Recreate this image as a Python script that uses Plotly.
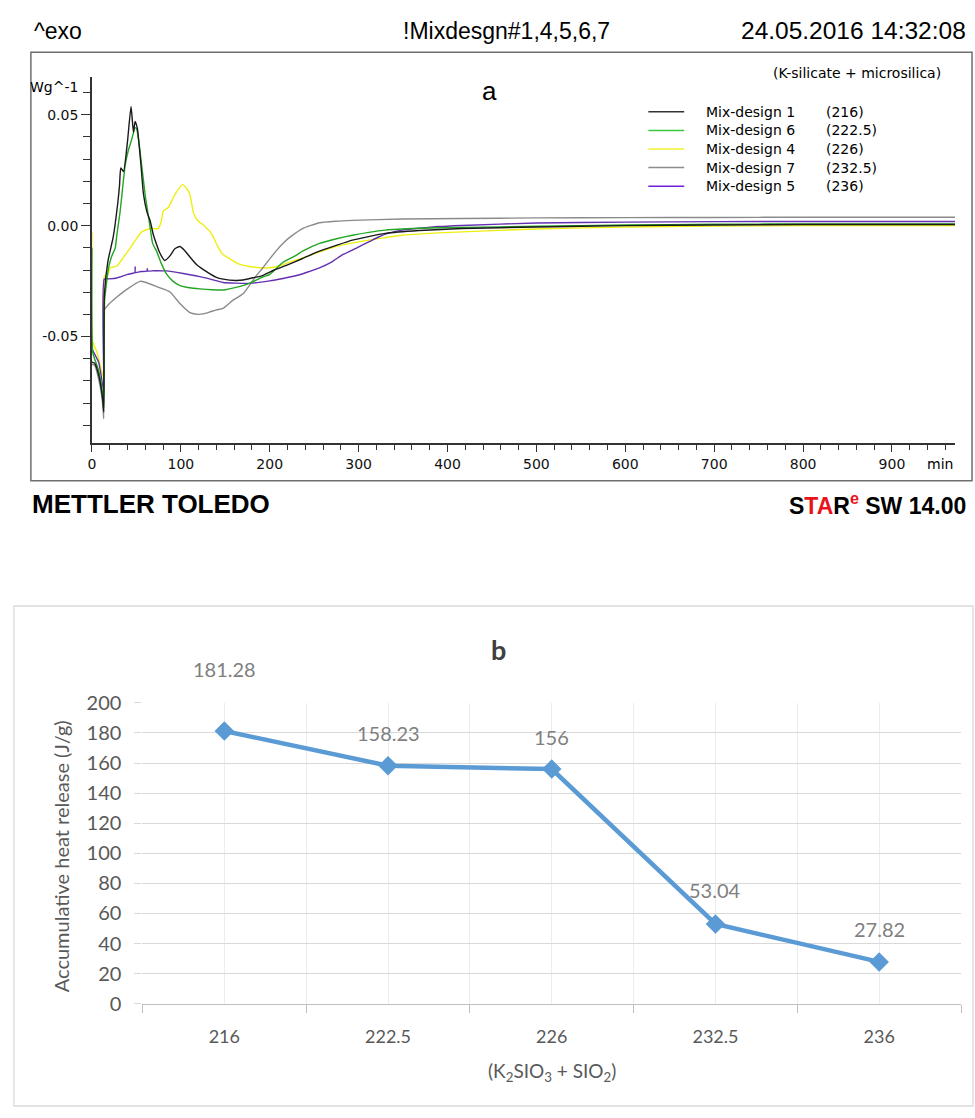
import plotly.graph_objects as go

# ---------------- data: panel a (DSC heat flow, W/g vs time, min) ----------------
t_mix1 = [0, 3, 8, 12, 13.3, 14, 18, 24, 29, 31, 32.5, 35.5, 40, 44, 46.7, 48.5, 49.3, 51.2, 55, 58,
          62, 65.4, 69, 71, 76, 82, 88, 93, 99, 105, 110, 117.6, 125, 140, 147.5, 162, 170, 181, 192, 205,
          218, 237, 256, 274, 293, 330, 368, 416, 500, 600, 700, 800, 900, 971]
v_mix1 = [-0.0615, -0.062, -0.068, -0.078, -0.084, -0.031, -0.016, -0.005, 0.010, 0.018, 0.026, 0.0244, 0.038, 0.0537, 0.042, 0.047, 0.0464, 0.0436, 0.028, 0.0141,
          0.006, 0.0023, -0.004, -0.0065, -0.012, -0.0157, -0.0135, -0.0105, -0.0094, -0.0115, -0.014, -0.0175, -0.0197, -0.0233, -0.0241, -0.0247, -0.0245, -0.0235, -0.0225, -0.020,
          -0.018, -0.0148, -0.0115, -0.009, -0.0065, -0.0035, -0.0022, -0.0013, -0.0006, 0.0, 0.0003, 0.0005, 0.0005, 0.0005]

t_mix6 = [0, 0.8, 3, 8, 12, 13.3, 14.2, 15, 18.7, 22, 26.2, 28, 31.8, 37.4, 41, 44.8, 48.6, 50.4, 54.2, 59.8,
          65.4, 68.3, 72.8, 78, 84, 91, 99, 110, 121.4, 135, 147.5, 162, 177, 190, 200, 215, 229, 237, 256, 274,
          293, 330, 368, 416, 500, 600, 700, 800, 900, 971]
v_mix6 = [-0.010, -0.057, -0.060, -0.066, -0.076, -0.082, -0.034, -0.0307, -0.019, -0.014, -0.0101, -0.0043, 0.0067, 0.0273, 0.034, 0.039, 0.0442, 0.0435, 0.0332, 0.0141,
          -0.0006, -0.008, -0.0116, -0.017, -0.0219, -0.025, -0.027, -0.028, -0.0285, -0.0289, -0.029, -0.0278, -0.026, -0.0235, -0.022, -0.0165, -0.0135, -0.0115, -0.008, -0.006,
          -0.0043, -0.002, -0.0012, -0.0008, -0.0003, 0.0003, 0.0006, 0.0008, 0.0008, 0.0008]

t_mix4 = [0, 0.6, 5.6, 11.2, 13.1, 13.9, 16.8, 20.6, 28, 36, 43, 50, 56, 65.4, 74.7, 78, 80.3, 85.9, 93.4, 101.9,
          106, 110.2, 114, 117.6, 121, 125, 129, 133, 137, 141, 147, 155, 165, 177, 190, 200, 210, 237, 274, 312,
          349, 416, 500, 600, 700, 800, 900, 971]
v_mix4 = [-0.003, -0.052, -0.057, -0.066, -0.0687, -0.0226, -0.0233, -0.019, -0.0182, -0.014, -0.0101, -0.006, -0.0028, -0.0013, -0.0013, 0.002, 0.0067, 0.0082, 0.0141, 0.0185,
          0.017, 0.0141, 0.0060, 0.0030, 0.0015, 0.0005, -0.0012, -0.0028, -0.0055, -0.0090, -0.0128, -0.015, -0.0172, -0.0184, -0.019, -0.019, -0.0182, -0.0145, -0.0094, -0.0065,
          -0.0043, -0.0028, -0.0015, -0.0006, -0.0002, 0.0, 0.0, 0.0]

t_mix7 = [0, 3, 8, 12, 13.3, 14, 15, 20, 28, 40, 54.2, 60, 65.4, 75, 87.8, 99, 110.2, 119.5, 125, 132,
          140, 147.5, 158.7, 170, 177.4, 185, 192.3, 200, 207, 214.7, 225, 237, 256, 274, 293, 349, 416, 500, 600, 700,
          800, 900, 971]
v_mix7 = [-0.0625, -0.063, -0.070, -0.080, -0.087, -0.038, -0.0373, -0.035, -0.0322, -0.0285, -0.0251, -0.0255, -0.0263, -0.0278, -0.0299, -0.0351, -0.0392, -0.0400, -0.0398, -0.039,
          -0.038, -0.0373, -0.0336, -0.0307, -0.0268, -0.0225, -0.019, -0.015, -0.0115, -0.008, -0.0045, -0.0013, 0.0013, 0.0020, 0.0024, 0.003, 0.0032, 0.0035, 0.0036, 0.0037,
          0.0038, 0.0038, 0.0038]

t_mix5 = [0, 1.1, 7.5, 12.3, 13.5, 13.9, 20, 28, 40, 48.3, 48.6, 48.9, 55, 62, 62.3, 62.6, 70, 84, 102.7, 121.4,
          135, 147.5, 162, 177.4, 199.8, 215, 229, 242, 256, 270, 282, 297, 312, 323, 334, 349, 368, 390, 416, 500,
          600, 700, 800, 900, 971]
v_mix5 = [-0.055, -0.0564, -0.0615, -0.0725, -0.075, -0.0241, -0.024, -0.0236, -0.022, -0.0211, -0.0186, -0.0211, -0.0207, -0.0204, -0.0194, -0.0204, -0.0203, -0.0204, -0.0216, -0.023,
          -0.0243, -0.0256, -0.0259, -0.026, -0.0249, -0.0238, -0.0226, -0.021, -0.019, -0.0163, -0.0131, -0.0102, -0.0072, -0.005, -0.0034, -0.002, -0.0012, -0.0004, 0.0001, 0.0012,
          0.0016, 0.0018, 0.0019, 0.0019, 0.0019]

series_names = ["Mix-design 1", "Mix-design 6", "Mix-design 4", "Mix-design 7", "Mix-design 5"]
series_dosage = ["(216)", "(222.5)", "(226)", "(232.5)", "(236)"]

# ---------------- data: panel b ----------------
categories = ["216", "222.5", "226", "232.5", "236"]
heat_release = [181.28, 158.23, 156, 53.04, 27.82]

# ---------------- styling ----------------
W, H = 975, 1118
def fx(x):
    return x / W
def fy(y):
    return 1 - y / H

series_t = [t_mix1, t_mix6, t_mix4, t_mix7, t_mix5]
series_v = [v_mix1, v_mix6, v_mix4, v_mix7, v_mix5]
line_colors = ["#1a1a1a", "#22a622", "#eeee10", "#8a8a8a", "#6330b0"]
legend_colors = ["#333333", "#3cc83c", "#f2f230", "#8c8c8c", "#7020d8"]
draw_order = [2, 3, 4, 1, 0]

fig = go.Figure()
for i in draw_order:
    fig.add_trace(go.Scatter(
        x=series_t[i], y=series_v[i], mode="lines", name=series_names[i],
        line=dict(color=line_colors[i], width=1.4, shape="spline", smoothing=0.5),
        xaxis="x", yaxis="y", showlegend=False, hoverinfo="skip"))

idx = list(range(len(categories)))
fig.add_trace(go.Scatter(
    x=idx, y=heat_release, mode="lines+markers",
    line=dict(color="#5b9bd5", width=4.5),
    marker=dict(symbol="diamond", size=15, color="#5b9bd5"),
    xaxis="x2", yaxis="y2", showlegend=False))

mono = "DejaVu Sans"
head = "Liberation Sans, Arial"
office = "Lato, Open Sans"

xa_major = list(range(0, 901, 100))
xa_minor = [v for v in range(20, 971, 20) if v % 100 != 0]
ya_major = [-0.05, 0.0, 0.05]
ya_minor = [round(k * 0.01, 2) for k in range(-9, 7) if k % 5 != 0]
bounds = [i - 0.5 for i in range(len(categories) + 1)]

annotations = []
def ann(text, x, y, size, family, color="#000", xanchor="center", **kw):
    annotations.append(dict(text=text, x=fx(x), y=fy(y), xref="paper", yref="paper",
                            showarrow=False, xanchor=xanchor, yanchor="middle",
                            font=dict(size=size, family=family, color=color), **kw))

# header / footer of panel a
ann("^exo", 28, 18, 23, head, xanchor="left")
ann("!Mixdesgn#1,4,5,6,7", 505, 18, 23, head)
ann("24.05.2016 14:32:08", 968, 18, 24.5, head, xanchor="right")
ann("<b>METTLER TOLEDO</b>", 26, 502, 26, head, xanchor="left")
ann('<b>S<span style="color:#e8141c">TA</span>R<sup><span style="color:#e8141c">e</span></sup> SW 14.00</b>',
    968, 502, 23, head, xanchor="right")
ann("a", 487, 80, 26, head)
ann("(K-silicate + microsilica)", 943, 61, 14, mono, xanchor="right")
ann("Wg^-1", 50, 76, 14, mono)
ann("min", 940, 461, 14, mono)

shapes = []
# panel a frame
shapes.append(dict(type="rect", xref="paper", yref="paper", x0=fx(27), x1=fx(972), y0=fy(478), y1=fy(40),
                   line=dict(color="#6e6e6e", width=1.5)))
# manual legend of panel a
for i in range(len(series_names)):
    yy = 101 + 19 * i
    shapes.append(dict(type="line", xref="paper", yref="paper", x0=fx(647), x1=fx(683), y0=fy(yy), y1=fy(yy),
                       line=dict(color=legend_colors[i], width=1.5)))
    ann(series_names[i], 703, yy, 14, mono, xanchor="left")
    ann(series_dosage[i], 823, yy, 14, mono, xanchor="left")

# panel b frame
shapes.append(dict(type="rect", xref="paper", yref="paper", x0=fx(10), x1=fx(973), y0=fy(1117), y1=fy(606),
                   line=dict(color="#d9d9d9", width=1.3)))
ann("<b>b</b>", 497, 650, 27, office, color="#404040")
ann("Accumulative heat release (J/g)", 58, 862, 20, office, color="#595959", textangle=-90)
ann("(K<sub>2</sub>SIO<sub>3</sub> + SIO<sub>2</sub>)", 550, 1082, 19, office, color="#595959")

label_shift = [62, 33, 32, 34, 33]
for i, v in enumerate(heat_release):
    annotations.append(dict(text=str(v), x=idx[i], y=v, xref="x2", yref="y2", showarrow=False,
                            yshift=label_shift[i], xanchor="center", yanchor="middle",
                            font=dict(size=20, family=office, color="#808080")))

fig.update_layout(
    width=W, height=H, margin=dict(l=0, r=0, t=0, b=0),
    paper_bgcolor="white", plot_bgcolor="white", showlegend=False,
    xaxis=dict(domain=[fx(88.3), fx(955)], range=[0, 971], anchor="y",
               tickmode="array", tickvals=xa_major, ticktext=[str(v) for v in xa_major],
               ticks="outside", ticklen=8, tickwidth=1.3, tickcolor="#333",
               showline=True, linecolor="#333", linewidth=1.5, showgrid=False, zeroline=False,
               tickfont=dict(family=mono, size=14, color="#111"),
               minor=dict(tickmode="array", tickvals=xa_minor, ticks="outside", ticklen=6,
                          tickwidth=1.3, tickcolor="#333", showgrid=False)),
    yaxis=dict(domain=[fy(439), fy(65)], range=[-0.0978, 0.0672], anchor="x",
               tickmode="array", tickvals=ya_major, ticktext=["-0.05", "0.00", "0.05"],
               ticks="outside", ticklen=9, tickwidth=1.3, tickcolor="#333",
               showline=True, linecolor="#333", linewidth=1.5, showgrid=False, zeroline=False,
               tickfont=dict(family=mono, size=14, color="#111"),
               minor=dict(tickmode="array", tickvals=ya_minor, ticks="outside", ticklen=7,
                          tickwidth=1.3, tickcolor="#333", showgrid=False)),
    xaxis2=dict(domain=[fx(139), fx(961)], range=[-0.5, len(categories) - 0.5], anchor="y2",
                tickmode="array", tickvals=idx, ticktext=categories, ticks="",
                showgrid=True, gridcolor="#ececec", gridwidth=1.3,
                showline=True, linecolor="#bfbfbf", linewidth=1.3, zeroline=False,
                ticklabelstandoff=16,
                tickfont=dict(family=office, size=18, color="#595959"),
                minor=dict(tickmode="array", tickvals=bounds, ticks="outside", ticklen=8,
                           tickwidth=1.3, tickcolor="#bfbfbf", showgrid=True,
                           gridcolor="#ececec", gridwidth=1.3)),
    yaxis2=dict(domain=[fy(1012.5), fy(705)], range=[0, 200], anchor="x2",
                tickmode="linear", tick0=0, dtick=20,
                showgrid=True, gridcolor="#d9d9d9", gridwidth=1.3, zeroline=False,
                ticks="outside", ticklen=7, tickcolor="#d9d9d9", tickwidth=1.3,
                showline=False, ticklabelstandoff=9,
                tickfont=dict(family=office, size=20, color="#595959")),
    annotations=annotations, shapes=shapes,
)

fig.write_html("out.html")
